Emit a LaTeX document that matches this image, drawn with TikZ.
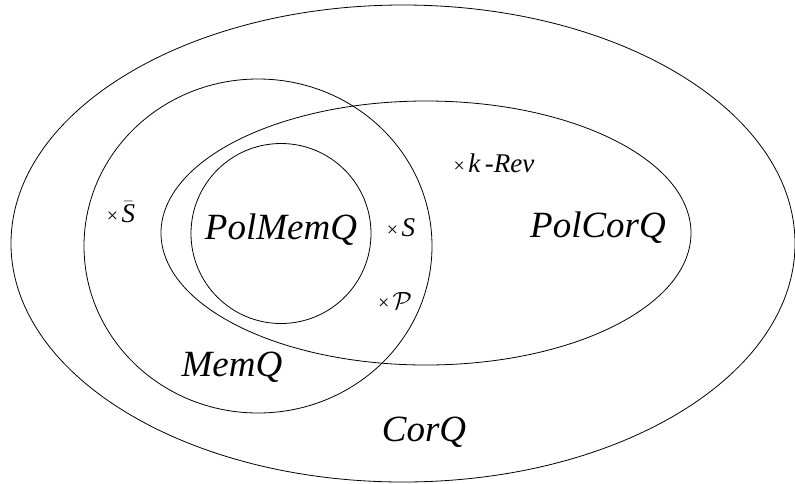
\documentclass[tikz,border=0pt]{standalone}
\usepackage{fontspec}
\setmainfont{Liberation Serif}[ItalicFont={Liberation Serif Italic}]
\begin{document}
\begin{tikzpicture}[x=1pt,y=-1pt,
  setline/.style={draw=black,line width=0.8pt},
  biglabel/.style={font=\fontsize{37}{40}\selectfont\itshape,inner sep=0pt},
  smalllabel/.style={font=\fontsize{20}{22}\selectfont,inner sep=0pt}]
\useasboundingbox (0,0) rectangle (795,483);
\fill[white] (0,0) rectangle (795,483);
% sets
\draw[setline] (403,243.5) ellipse [x radius=392, y radius=238.5];
\draw[setline] (258,246) ellipse [x radius=174, y radius=167];
\draw[setline] (426,233) ellipse [x radius=265, y radius=132];
\draw[setline] (281,233.5) circle [radius=90];
% labels
\node[biglabel] (polmem) at (281,230) {PolMemQ};
\node[biglabel] (polcor) at (598,228) {PolCorQ};
\node[biglabel] (mem) at (232,367) {MemQ};
\node[biglabel] (cor) at (424,432) {CorQ};
% points
\node[smalllabel] (sbar) at (121,212) {×\,{\fontsize{27}{30}\selectfont$\bar{\mbox{\itshape S}}$}};
\node[smalllabel] (s) at (401,228) {×\,{\fontsize{27}{30}\selectfont\itshape S}};
\node[smalllabel] (p) at (395,301) {×\,{\fontsize{27}{30}\selectfont$\mathcal{P}$}};
\node[smalllabel] (krev) at (494,163) {×\,{\fontsize{27}{30}\selectfont\itshape k\,-Rev}};
\end{tikzpicture}
\end{document}
